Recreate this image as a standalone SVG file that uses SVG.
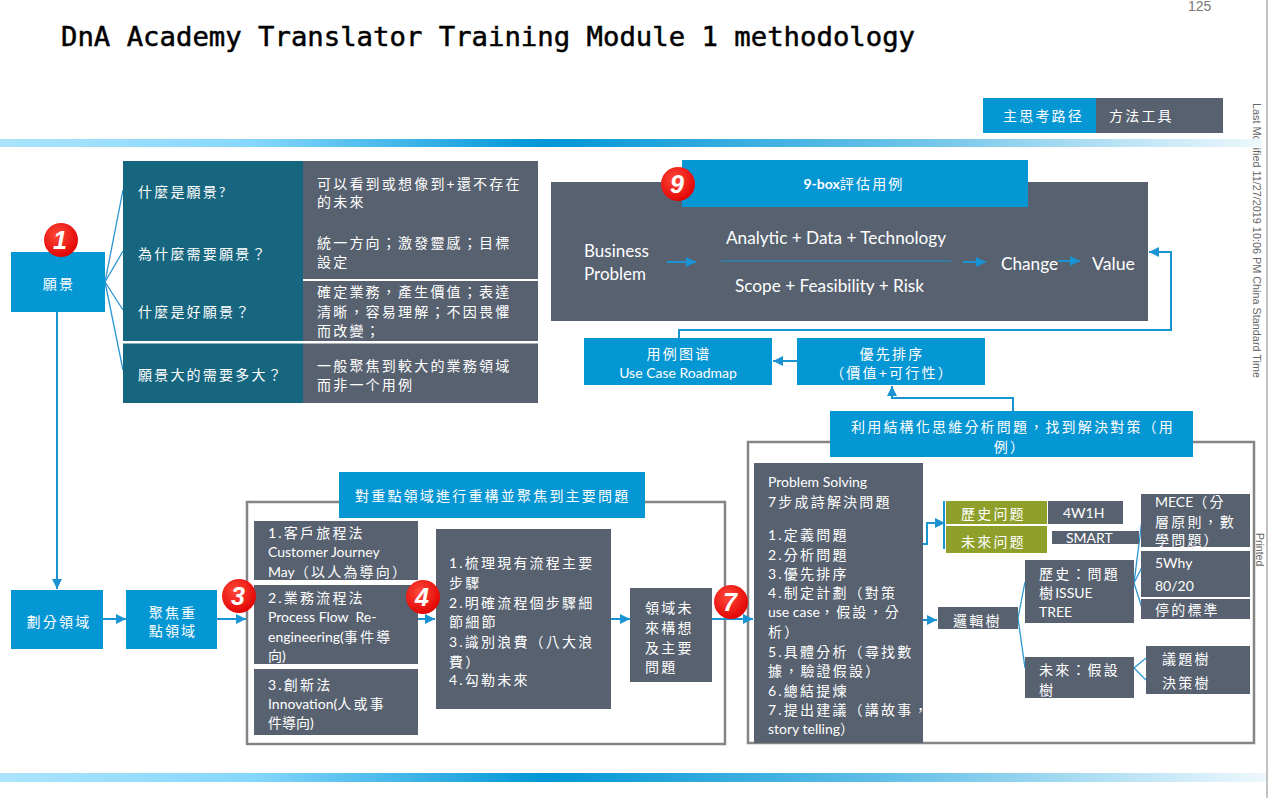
<svg xmlns="http://www.w3.org/2000/svg" width="1270" height="798" viewBox="0 0 1270 798">
<defs>
<linearGradient id="band" x1="0" y1="0" x2="1" y2="0">
<stop offset="0" stop-color="#abe4fc"/>
<stop offset="0.2" stop-color="#86d7fc"/>
<stop offset="0.43" stop-color="#0096d6"/>
<stop offset="0.7" stop-color="#62bfe7"/>
<stop offset="1" stop-color="#eef8fd"/>
</linearGradient>
<radialGradient id="red" cx="0.4" cy="0.35" r="0.7">
<stop offset="0" stop-color="#ff4a3a"/>
<stop offset="1" stop-color="#e00000"/>
</radialGradient>
<marker id="ah" markerUnits="userSpaceOnUse" markerWidth="12" markerHeight="12" refX="10" refY="6" orient="auto">
<path d="M0,1 L10,6 L0,11 Z" fill="#1a93d3"/>
</marker>
<style>
.blue{fill:#0596d4}
.dark{fill:#57616f}
.teal{fill:#17667f}
.olive{fill:#8fa02a}
.t{fill:#fff;font-family:Lato,"Noto Sans CJK TC",sans-serif;font-size:14px}
.c{letter-spacing:2.2px}
.en{font-family:Lato,"Noto Sans CJK TC",sans-serif;fill:#fff}
.mid{text-anchor:middle}
.ln{fill:none;stroke:#1a93d3;stroke-width:2}
.thin{fill:none;stroke:#2b95d3;stroke-width:1.3}
.frame{fill:none;stroke:#858585;stroke-width:2.5}
.badge{fill:url(#red)}
.bt{fill:#fff;font-family:"Liberation Sans",Arial,sans-serif;font-weight:bold;font-style:italic;font-size:25px;text-anchor:middle}
.side{fill:#666;font-family:"Liberation Sans",Arial,sans-serif;font-size:10.5px}
</style>
</defs>
<rect width="1270" height="798" fill="#fff"/>

<!-- side texts and frame -->
<text class="side" transform="translate(1253,103) rotate(90)" textLength="275" lengthAdjust="spacingAndGlyphs">Last Modified 11/27/2019 10:06 PM China Standard Time</text>
<text class="side" transform="translate(1256,533) rotate(90)">Printed</text>
<line x1="1267" y1="0" x2="1267" y2="798" stroke="#999" stroke-width="1.2"/>
<text x="1188" y="11" fill="#777" font-family="Liberation Sans,Arial,sans-serif" font-size="14">125</text>

<!-- title -->
<text x="61" y="46" font-family="'DejaVu Sans Mono','Liberation Mono',monospace" font-size="27" fill="#000" stroke="#000" stroke-width="0.5" textLength="854" lengthAdjust="spacingAndGlyphs">DnA Academy Translator Training Module 1 methodology</text>

<!-- legend -->
<g id="legend">
<rect class="blue" x="983" y="98" width="113" height="35"/>
<rect class="dark" x="1096" y="98" width="127" height="35"/>
<text class="t c" x="1003" y="121" font-size="15">主思考路径</text>
<text class="t c" x="1109" y="121" font-size="15">方法工具</text>
</g>

<!-- bands -->
<rect x="0" y="139" width="1262" height="8" fill="url(#band)"/>
<rect x="0" y="773" width="1266" height="9" fill="url(#band)"/>

<!-- containers -->
<rect class="frame" x="247" y="502" width="478" height="242"/>
<rect class="frame" x="748" y="442" width="506" height="301"/>

<!-- connectors -->
<g id="connectors">
<line class="thin" x1="105" y1="282" x2="123" y2="190"/>
<line class="thin" x1="105" y1="282" x2="123" y2="251"/>
<line class="thin" x1="105" y1="282" x2="123" y2="310"/>
<line class="thin" x1="105" y1="282" x2="123" y2="370"/>
<line class="ln" x1="57" y1="312" x2="57" y2="589" marker-end="url(#ah)"/>
<line class="ln" x1="103" y1="619" x2="126" y2="619" marker-end="url(#ah)"/>
<line class="ln" x1="217" y1="619" x2="246" y2="619" marker-end="url(#ah)"/>
<line class="ln" x1="418" y1="619" x2="435" y2="619" marker-end="url(#ah)"/>
<line class="ln" x1="611" y1="619" x2="630" y2="619" marker-end="url(#ah)"/>
<line class="ln" x1="712" y1="619" x2="753" y2="619" marker-end="url(#ah)"/>
<polyline class="ln" points="679,338 679,330 1171,330 1171,252 1149,252" marker-end="url(#ah)"/>
<line class="ln" x1="797" y1="361" x2="773" y2="361" marker-end="url(#ah)"/>
<polyline class="ln" points="1013,411 1013,398 892,398 892,386" marker-end="url(#ah)"/>
<polyline class="ln" points="846,544 927,544 927,523 945,523" marker-end="url(#ah)"/>
<polyline class="ln" points="848,555 894,555 894,620 937,620" marker-end="url(#ah)"/>
<line class="ln" x1="944" y1="501" x2="944" y2="549" stroke-width="1.5"/>
<line class="thin" x1="1018" y1="618" x2="1025" y2="582"/>
<line class="thin" x1="1018" y1="618" x2="1025" y2="668"/>
<line class="thin" x1="1134" y1="583" x2="1142" y2="520"/>
<line class="thin" x1="1134" y1="583" x2="1142" y2="567"/>
<line class="thin" x1="1134" y1="583" x2="1142" y2="608"/>
<line class="thin" x1="1134" y1="668" x2="1146" y2="658"/>
<line class="thin" x1="1134" y1="668" x2="1146" y2="680"/>
</g>

<!-- vision -->
<g id="vision">
<rect class="blue" x="11" y="252" width="94" height="60"/>
<text class="t c mid" x="59" y="289" font-size="15">願景</text>
</g>
<g id="badge1"><circle class="badge" cx="61" cy="240" r="17"/><text class="bt" x="60" y="249">1</text></g>

<g id="vision-table">
<rect class="teal" x="123" y="161" width="180" height="242"/>
<rect class="dark" x="303" y="161" width="235" height="242"/>
<rect x="303" y="279" width="235" height="2" fill="#fff"/>
<rect x="123" y="341" width="415" height="2.5" fill="#fff"/>
<text class="t c" x="138" y="197">什麼是願景?</text>
<text class="t c" x="138" y="259">為什麼需要願景？</text>
<text class="t c" x="138" y="317">什麼是好願景？</text>
<text class="t c" x="138" y="380">願景大的需要多大？</text>
<text class="t c" x="317" y="189">可以看到或想像到+還不存在</text>
<text class="t c" x="317" y="207">的未來</text>
<text class="t c" x="317" y="248">統一方向；激發靈感；目標</text>
<text class="t c" x="317" y="267">設定</text>
<text class="t c" x="317" y="297">確定業務，產生價值；表達</text>
<text class="t c" x="317" y="317">清晰，容易理解；不因畏懼</text>
<text class="t c" x="317" y="336">而改變；</text>
<text class="t c" x="317" y="371">一般聚焦到較大的業務領域</text>
<text class="t c" x="317" y="390">而非一个用例</text>
</g>

<!-- 9-box -->
<g id="ninebox">
<rect class="dark" x="551" y="182" width="597" height="139"/>
<rect class="blue" x="682" y="160" width="346" height="47"/>
<text class="t mid" x="854" y="189" font-size="14" font-weight="bold">9-box<tspan class="c" font-weight="normal">評估用例</tspan></text>
<text class="en" x="584" y="257" font-size="17">Business</text>
<text class="en" x="584" y="280" font-size="17">Problem</text>
<line class="ln" x1="667" y1="262" x2="696" y2="262" stroke-width="2.5" marker-end="url(#ah)"/>
<text class="en" x="726" y="244" font-size="17" textLength="220" lengthAdjust="spacingAndGlyphs">Analytic + Data + Technology</text>
<line x1="721" y1="261" x2="951" y2="261" stroke="#1a93d3" stroke-width="1"/>
<text class="en" x="735" y="292" font-size="17" textLength="189" lengthAdjust="spacingAndGlyphs">Scope + Feasibility + Risk</text>
<line class="ln" x1="963" y1="262" x2="986" y2="262" stroke-width="2.5" marker-end="url(#ah)"/>
<text class="en" x="1001" y="270" font-size="17" textLength="57" lengthAdjust="spacingAndGlyphs">Change</text>
<line class="ln" x1="1058" y1="261" x2="1080" y2="261" stroke-width="2.5" marker-end="url(#ah)"/>
<text class="en" x="1092" y="270" font-size="17" textLength="43" lengthAdjust="spacingAndGlyphs">Value</text>
</g>
<g id="badge9"><circle class="badge" cx="678" cy="184" r="17"/><text class="bt" x="677" y="193">9</text></g>

<g id="roadmap">
<rect class="blue" x="584" y="338" width="188" height="47"/>
<text class="t c mid" x="679" y="359">用例图谱</text>
<text class="t mid" x="678" y="378">Use Case Roadmap</text>
</g>
<g id="priority">
<rect class="blue" x="797" y="338" width="188" height="47"/>
<text class="t c mid" x="892" y="359">優先排序</text>
<text class="t c mid" x="892" y="378">（價值+可行性）</text>
</g>
<g id="structured">
<rect class="blue" x="830" y="411" width="363" height="46"/>
<text class="t c" x="851" y="432">利用結構化思維分析問題，找到解決對策（用</text>
<text class="t c mid" x="1010" y="452">例）</text>
</g>

<!-- bottom-left flow -->
<g id="divide">
<rect class="blue" x="11" y="590" width="92" height="59"/>
<text class="t c mid" x="59" y="627">劃分領域</text>
</g>
<g id="focus">
<rect class="blue" x="126" y="590" width="91" height="59"/>
<text class="t c mid" x="173" y="618">聚焦重</text>
<text class="t c mid" x="173" y="636">點領域</text>
</g>

<g id="restructure-header">
<rect class="blue" x="339" y="472" width="306" height="46"/>
<text class="t c" x="355" y="501">對重點領域進行重構並聚焦到主要問題</text>
</g>
<g id="m1">
<rect class="dark" x="254" y="521" width="164" height="59"/>
<text class="t c" x="268" y="538">1.客戶旅程法</text>
<text class="t" x="268" y="557">Customer Journey</text>
<text class="t" x="268" y="577">May<tspan class="c">（以人為導向）</tspan></text>
</g>
<g id="m2">
<rect class="dark" x="254" y="585" width="164" height="79"/>
<text class="t c" x="268" y="603">2.業務流程法</text>
<text class="t" x="268" y="622" xml:space="preserve">Process Flow  Re-</text>
<text class="t" x="268" y="642">engineering(<tspan class="c">事件導</tspan></text>
<text class="t" x="268" y="661">向)</text>
</g>
<g id="m3">
<rect class="dark" x="254" y="669" width="164" height="66"/>
<text class="t c" x="268" y="690">3.創新法</text>
<text class="t" x="268" y="709">Innovation(<tspan class="c">人或事</tspan></text>
<text class="t" x="268" y="728">件導向)</text>
</g>
<g id="badge3"><circle class="badge" cx="239" cy="596" r="17"/><text class="bt" x="238" y="605">3</text></g>

<g id="steps">
<rect class="dark" x="436" y="529" width="175" height="180"/>
<text class="t c" x="449" y="568">1.梳理現有流程主要</text>
<text class="t c" x="449" y="588">步驟</text>
<text class="t c" x="449" y="608">2.明確流程個步驟細</text>
<text class="t c" x="449" y="627">節細節</text>
<text class="t c" x="449" y="647">3.識別浪費（八大浪</text>
<text class="t c" x="449" y="667">費）</text>
<text class="t c" x="449" y="685">4.勾勒未來</text>
</g>
<g id="badge4"><circle class="badge" cx="423" cy="597" r="17"/><text class="bt" x="422" y="606">4</text></g>

<g id="future">
<rect class="dark" x="630" y="588" width="82" height="94"/>
<text class="t c" x="645" y="613">領域未</text>
<text class="t c" x="645" y="633">來構想</text>
<text class="t c" x="645" y="653">及主要</text>
<text class="t c" x="645" y="672">問題</text>
</g>
<g id="badge7"><circle class="badge" cx="731" cy="602" r="17"/><text class="bt" x="730" y="611">7</text></g>

<!-- problem solving -->
<g id="ps">
<rect class="dark" x="754" y="463" width="169" height="280"/>
<text class="t" x="768" y="487">Problem Solving</text>
<text class="t c" x="768" y="507">7步成詩解決問題</text>
<text class="t c" x="768" y="540">1.定義問題</text>
<text class="t c" x="768" y="560">2.分析問題</text>
<text class="t c" x="768" y="579">3.優先排序</text>
<text class="t c" x="768" y="598">4.制定計劃（對策</text>
<text class="t" x="768" y="617">use case<tspan class="c">，假設，分</tspan></text>
<text class="t c" x="768" y="637">析）</text>
<text class="t c" x="768" y="657">5.具體分析（尋找數</text>
<text class="t c" x="768" y="676">據，驗證假設）</text>
<text class="t c" x="768" y="696">6.總結提煉</text>
<text class="t c" x="768" y="715">7.提出建議（講故事，</text>
<text class="t" x="768" y="734">story telling<tspan class="c">）</tspan></text>
</g>

<g id="hist-q">
<rect class="olive" x="946" y="501" width="101" height="23"/>
<text class="t c" x="961" y="519">歷史问题</text>
</g>
<g id="fut-q">
<rect class="olive" x="946" y="526" width="101" height="27"/>
<text class="t c" x="961" y="547">未來问题</text>
</g>
<g id="w4">
<rect class="dark" x="1048" y="501" width="75" height="23"/>
<text class="t" x="1063" y="518" font-size="15">4W1H</text>
</g>
<g id="smart">
<rect class="dark" x="1052" y="531" width="87" height="13"/>
<text class="t" x="1066" y="543" font-size="15">SMART</text>
</g>
<g id="logic">
<rect class="dark" x="938" y="607" width="80" height="22"/>
<text class="t c" x="953" y="626">邏輯樹</text>
</g>
<g id="issue">
<rect class="dark" x="1025" y="560" width="109" height="63"/>
<text class="t c" x="1039" y="579">歷史：問題</text>
<text class="t" x="1039" y="598"><tspan class="c">樹</tspan>ISSUE</text>
<text class="t" x="1039" y="617">TREE</text>
</g>
<g id="hypo">
<rect class="dark" x="1025" y="657" width="109" height="41"/>
<text class="t c" x="1039" y="675">未來：假設</text>
<text class="t c" x="1039" y="695">樹</text>
</g>
<g id="mece">
<rect class="dark" x="1141" y="494" width="109" height="53"/>
<text class="t" x="1155" y="507">MECE<tspan class="c">（分</tspan></text>
<text class="t c" x="1155" y="527">層原則，數</text>
<text class="t c" x="1155" y="545">學問題）</text>
</g>
<g id="why">
<rect class="dark" x="1141" y="551" width="109" height="46"/>
<text class="t" x="1155" y="568">5Why</text>
<text class="t" x="1155" y="591">80/20</text>
</g>
<g id="stop">
<rect class="dark" x="1141" y="599" width="109" height="20"/>
<text class="t c" x="1155" y="615">停的標準</text>
</g>
<g id="trees">
<rect class="dark" x="1146" y="646" width="104" height="48"/>
<text class="t c" x="1162" y="664">議題樹</text>
<text class="t c" x="1162" y="688">決策樹</text>
</g>
</svg>
